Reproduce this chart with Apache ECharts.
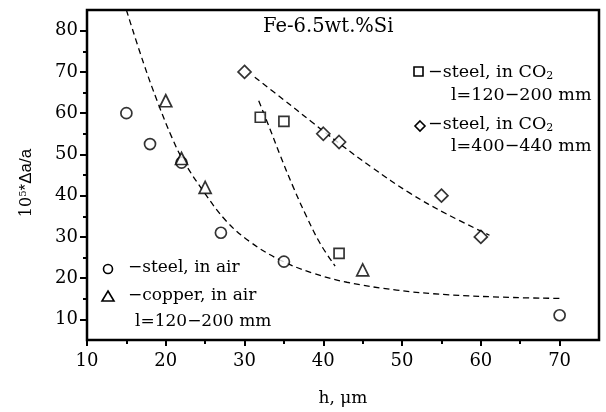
<!DOCTYPE html>
<html>
<head>
<meta charset="utf-8">
<script src="https://cdn.jsdelivr.net/npm/echarts@6/dist/echarts.min.js"></script>
<style>html,body{margin:0;padding:0;background:#fff}#c{width:606px;height:412px}</style>
</head>
<body>
<div id="c"></div>
<script>
// ---- data ----
const xLabels = [10, 20, 30, 40, 50, 60, 70];
const xMinor = [15, 25, 35, 45, 55, 65];
const yLabels = [10, 20, 30, 40, 50, 60, 70, 80];
const yMinor = [15, 25, 35, 45, 55, 65, 75];

const steelAir = [[15, 60], [18, 52.5], [22, 48], [27, 31], [35, 24], [70, 11]];
const copperAir = [[20, 63], [22, 49], [25, 42], [45, 22]];
const steelCO2a = [[32, 59], [35, 58], [42, 26]];
const steelCO2b = [[30, 70], [40, 55], [42, 53], [55, 40], [60, 30]];

const fitAir = [[15, 85], [17.2, 72], [19, 62.5], [20.8, 54], [22.2, 48.6], [24.8, 41], [27.7, 33.8],
  [30.7, 28.8], [34.5, 24.4], [38.7, 21.2], [43, 19], [49.3, 17.1], [55.6, 16], [64.1, 15.3], [70, 15.1]];
const fitCO2a = [[31.8, 63], [33.2, 56.3], [34.5, 49.9], [36.2, 42], [37.9, 34.8], [39.6, 28.4], [41.5, 22.9]];
const fitCO2b = [[31.3, 68.7], [35, 63.2], [38.5, 57.9], [42, 52.7], [46.2, 46.8], [51, 40.6], [55.6, 35.6], [61.1, 30.4]];

const titleText = 'Fe-6.5wt.%Si';
const xName = 'h, μm';

// ---- chart ----
const serif = 'DejaVu Serif';
const chart = echarts.init(document.getElementById('c'), null, {renderer: 'canvas'});
const G = {left: 87, right: 7, top: 10, bottom: 66};

function scat(data, symbol, size) {
  return {type: 'scatter', data, symbol, symbolSize: size, z: 5,
    itemStyle: {color: '#fff', borderColor: '#000', borderWidth: 1.7}};
}
function fit(data) {
  return {type: 'line', data, smooth: 0.4, symbol: 'none', z: 3,
    lineStyle: {color: '#000', width: 1.3, type: [6, 4]}};
}
const ax = {color: '#000', width: 2};

const option = {
  backgroundColor: '#fff',
  animation: false,
  grid: Object.assign({show: true, borderColor: '#000', borderWidth: 2.5, backgroundColor: 'transparent'}, G),
  xAxis: [{
    type: 'value', min: 10, max: 75, interval: 5,
    name: xName, nameLocation: 'middle', nameGap: 50,
    nameTextStyle: {fontFamily: serif, fontSize: 17, color: '#000'},
    axisLine: {lineStyle: ax},
    axisTick: {show: true, length: 6, lineStyle: {color: '#000', width: 2}, customValues: xLabels},
    axisLabel: {fontFamily: serif, fontSize: 18, color: '#000', margin: 12, customValues: xLabels},
    splitLine: {show: false}
  }, {
    type: 'value', min: 10, max: 75, interval: 5, position: 'bottom',
    axisLine: {show: false},
    axisTick: {show: true, length: 4, lineStyle: {color: '#000', width: 2}, customValues: xMinor},
    axisLabel: {show: false},
    splitLine: {show: false}
  }],
  yAxis: [{
    type: 'value', min: 5, max: 85, interval: 5,
    name: '{n|10}{sup|5}{s|*Δa/a}', nameLocation: 'middle', nameGap: 52, nameRotate: 90,
    nameTextStyle: {color: '#000', padding: [0, 16, 0, 0], rich: {
      n: {fontFamily: serif, fontSize: 16, color: '#000'},
      sup: {fontFamily: serif, fontSize: 10, color: '#000', verticalAlign: 'top'},
      s: {fontFamily: 'Liberation Sans', fontSize: 17, color: '#000'}
    }},
    axisLine: {lineStyle: ax},
    axisTick: {show: true, length: 7, lineStyle: {color: '#000', width: 2}, customValues: yLabels},
    axisLabel: {fontFamily: serif, fontSize: 18, color: '#000', margin: 9, customValues: yLabels},
    splitLine: {show: false}
  }, {
    type: 'value', min: 5, max: 85, interval: 5, position: 'left',
    axisLine: {show: false},
    axisTick: {show: true, length: 4, lineStyle: {color: '#000', width: 2}, customValues: yMinor},
    axisLabel: {show: false},
    splitLine: {show: false}
  }],
  series: [
    fit(fitAir), fit(fitCO2a), fit(fitCO2b),
    scat(steelAir, 'circle', 11),
    scat(copperAir, 'triangle', 12),
    scat(steelCO2a, 'rect', 10),
    scat(steelCO2b, 'diamond', 13)
  ],
  graphic: []
};

const T = {fontFamily: serif, fontSize: 17, fill: '#000'};
const richCO2 = {
  t: {fontFamily: serif, fontSize: 17.5, color: '#000'},
  s: {fontFamily: serif, fontSize: 11, color: '#000', verticalAlign: 'bottom', padding: [9, 0, 0, 0]}
};
const stroke = {fill: '#fff', stroke: '#000', lineWidth: 1.6};
option.graphic = [
  {type: 'text', left: 263, top: 17, style: Object.assign({text: titleText}, T, {fontSize: 19.5})},
  // upper-right legend
  {type: 'rect', shape: {x: 414, y: 67, width: 9, height: 9}, style: stroke},
  {type: 'text', left: 428, top: 63, style: {text: '{t|−steel, in CO}{s|2}', rich: richCO2}},
  {type: 'text', left: 451, top: 86, style: Object.assign({text: 'l=120−200 mm'}, T, {fontSize: 17.5})},
  {type: 'polygon', shape: {points: [[420, 121], [425, 126], [420, 131], [415, 126]]}, style: stroke},
  {type: 'text', left: 428, top: 115, style: {text: '{t|−steel, in CO}{s|2}', rich: richCO2}},
  {type: 'text', left: 451, top: 137, style: Object.assign({text: 'l=400−440 mm'}, T, {fontSize: 17.5})},
  // lower-left legend
  {type: 'circle', shape: {cx: 108, cy: 269, r: 4.5}, style: stroke},
  {type: 'text', left: 128, top: 259, style: Object.assign({text: '−steel, in air'}, T)},
  {type: 'polygon', shape: {points: [[108, 291], [114, 301], [102, 301]]}, style: stroke},
  {type: 'text', left: 128, top: 287, style: Object.assign({text: '−copper, in air'}, T)},
  {type: 'text', left: 135, top: 313, style: Object.assign({text: 'l=120−200 mm'}, T)}
];

chart.setOption(option);
</script>
</body>
</html>
